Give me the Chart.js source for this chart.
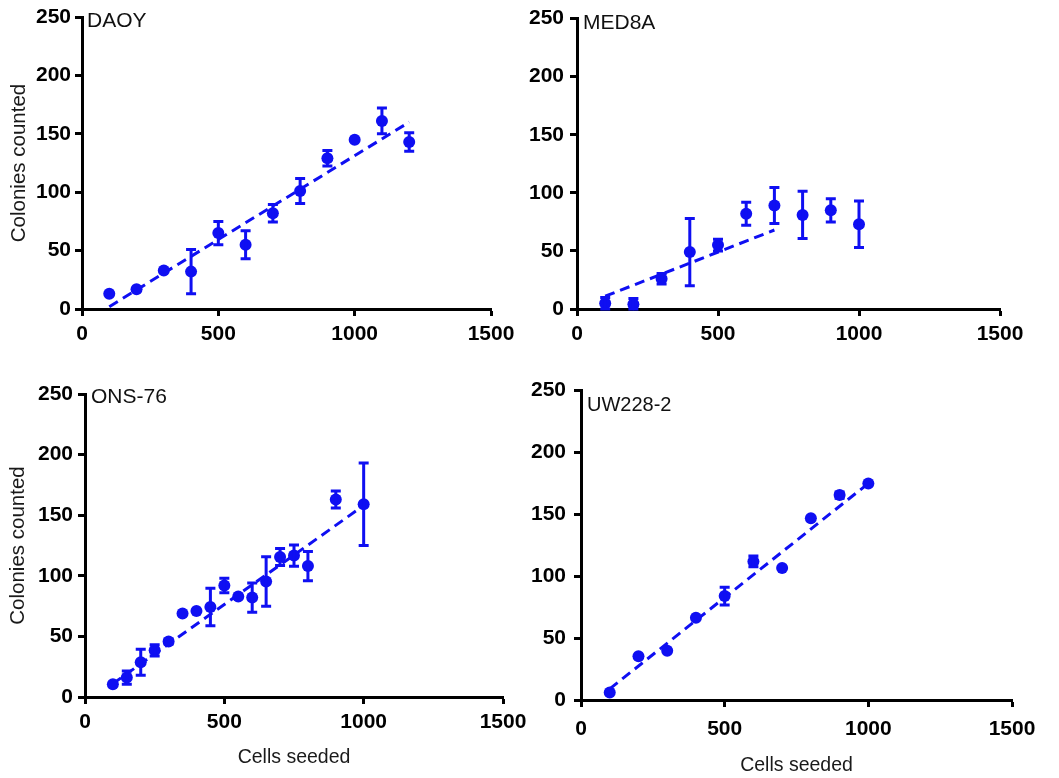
<!DOCTYPE html>
<html>
<head>
<meta charset="utf-8">
<script src="https://cdn.jsdelivr.net/npm/chart.js@4.4.1/dist/chart.umd.min.js"></script>
<style>
html,body{margin:0;padding:0;background:#fff;}
body{width:1059px;height:778px;position:relative;overflow:hidden;}
canvas{position:absolute;}
</style>
</head>
<body>
<canvas id="c1" width="530" height="370" style="left:0px;top:0px;width:530px;height:370px"></canvas>
<canvas id="c2" width="539" height="370" style="left:520px;top:0px;width:539px;height:370px"></canvas>
<canvas id="c3" width="540" height="408" style="left:0px;top:370px;width:540px;height:408px"></canvas>
<canvas id="c4" width="539" height="408" style="left:520px;top:370px;width:539px;height:408px"></canvas>
<script>
// ---------- DATA ----------
const xTicks = [0, 500, 1000, 1500];
const yTicks = [0, 50, 100, 150, 200, 250];
const yAxisTitle = 'Colonies counted';
const xAxisTitle = 'Cells seeded';

// DAOY
const daoyName = 'DAOY';
const daoyX = [100, 200, 300, 400, 500, 600, 700, 800, 900, 1000, 1100, 1200];
const daoyY = [13, 17, 33, 32, 65, 55, 82, 101, 129, 145, 161, 143];
const daoyErr = [0, 0, 0, 19, 10, 12, 7.5, 10.7, 6.6, 0, 11, 8];
const daoyFitX = [100, 1200];
const daoyFitY = [2, 160];

// MED8A
const medName = 'MED8A';
const medX = [100, 200, 300, 400, 500, 600, 700, 800, 900, 1000];
const medY = [5, 4, 26, 49, 55, 82, 89, 81, 85, 73];
const medErr = [5, 5, 4.5, 29, 5, 10, 15.5, 20.3, 10, 20];
const medFitX = [100, 700];
const medFitY = [11, 68];

// ONS-76
const onsName = 'ONS-76';
const onsX = [100, 150, 200, 250, 300, 350, 400, 450, 500, 550, 600, 650, 700, 750, 800, 900, 1000];
const onsY = [10.5, 16, 28.6, 38.5, 45.7, 68.8, 71, 74.3, 92, 83, 82, 95.3, 115.6, 116.7, 108, 163, 159];
const onsErr = [0, 5.5, 10.7, 4.7, 2, 0, 0, 15.5, 6, 0, 12, 20.4, 7, 8.8, 12, 7, 34];
const onsFitX = [100, 1000];
const onsFitY = [11, 158];

// UW228-2
const uwName = 'UW228-2';
const uwX = [100, 200, 300, 400, 500, 600, 700, 800, 900, 1000];
const uwY = [6, 35.4, 39.7, 66.5, 84, 112, 106.6, 146.8, 165.6, 175];
const uwErr = [0, 0, 0, 0, 7.2, 4.3, 0, 0, 2.5, 0];
const uwFitX = [100, 1000];
const uwFitY = [9, 175];

// ---------- STYLE ----------
const BLUE = '#0f0ff2';
const FONT = "'Liberation Sans', Arial, Helvetica, sans-serif";

const errorBars = {
  id: 'errorBars',
  afterDatasetsDraw(chart) {
    const ds = chart.data.datasets[0];
    const errs = ds.errors || [];
    const xs = chart.scales.x, ys = chart.scales.y;
    const ctx = chart.ctx;
    ctx.save();
    ctx.strokeStyle = BLUE;
    ctx.lineWidth = 3;
    ds.data.forEach((p, i) => {
      const e = errs[i];
      if (!e) return;
      const px = xs.getPixelForValue(p.x);
      const t = ys.getPixelForValue(p.y + e);
      const b = ys.getPixelForValue(Math.max(p.y - e, 0));
      ctx.beginPath();
      ctx.moveTo(px, t); ctx.lineTo(px, b);
      ctx.moveTo(px - 5, t); ctx.lineTo(px + 5, t);
      ctx.moveTo(px - 5, b); ctx.lineTo(px + 5, b);
      ctx.stroke();
    });
    ctx.restore();
  }
};

const panelTitle = {
  id: 'panelTitle',
  afterDraw(chart, args, opts) {
    const ctx = chart.ctx;
    const a = chart.chartArea;
    ctx.save();
    ctx.fillStyle = '#111';
    ctx.font = `${opts.size}px ${FONT}`;
    ctx.textAlign = 'left';
    ctx.textBaseline = 'middle';
    ctx.fillText(opts.text, a.left + opts.dx, a.top + opts.dy);
    ctx.restore();
  }
};

function makeChart(id, name, xs, ys, errs, fx, fy, L) {
  const pts = xs.map((v, i) => ({x: v, y: ys[i]}));
  const fit = fx.map((v, i) => ({x: v, y: fy[i]}));
  const tickFont = {family: FONT, size: 21, weight: 'bold'};
  new Chart(document.getElementById(id), {
    type: 'scatter',
    data: {
      datasets: [
        {data: pts, errors: errs, backgroundColor: BLUE, borderColor: BLUE, pointRadius: 6, pointHoverRadius: 6, pointBorderWidth: 0, showLine: false, clip: false},
        {data: fit, showLine: true, borderColor: BLUE, borderWidth: 3, borderDash: [10, 6], pointRadius: 0, fill: false, clip: false}
      ]
    },
    options: {
      responsive: false, animation: false, devicePixelRatio: 1,
      events: [],
      layout: {padding: {left: 0, top: L.top, right: L.right, bottom: 0}},
      plugins: {
        legend: {display: false}, tooltip: {enabled: false},
        panelTitle: {text: name, dx: L.tdx, dy: L.tdy, size: L.tsize}
      },
      scales: {
        x: {
          type: 'linear', min: xTicks[0], max: xTicks[xTicks.length - 1],
          afterBuildTicks(s) { s.ticks = xTicks.map(v => ({value: v})); },
          ticks: {font: tickFont, color: '#000', padding: L.xPad, maxRotation: 0, autoSkip: false, callback: v => String(v)},
          grid: {display: true, drawOnChartArea: false, drawTicks: true, tickLength: 7, tickWidth: 3, tickColor: '#000'},
          border: {display: true, width: 3, color: '#000'},
          title: {display: !!L.xTitle, text: xAxisTitle, color: '#1a1a1a', font: {family: FONT, size: 19.5}, padding: {top: 0, bottom: L.xTitlePad || 0}},
          afterFit(s) { s.height = L.xH; }
        },
        y: {
          type: 'linear', min: yTicks[0], max: yTicks[yTicks.length - 1],
          afterBuildTicks(s) { s.ticks = yTicks.map(v => ({value: v})); },
          ticks: {font: tickFont, color: '#000', padding: L.yPad, autoSkip: false, callback: v => String(v)},
          grid: {display: true, drawOnChartArea: false, drawTicks: true, tickLength: 7, tickWidth: 3, tickColor: '#000'},
          border: {display: true, width: 3, color: '#000'},
          title: {display: !!L.yTitle, text: yAxisTitle, color: '#1a1a1a', font: {family: FONT, size: 20.5}, padding: {top: L.yTitlePad || 0, bottom: 0}},
          afterFit(s) { s.width = L.yW; }
        }
      }
    },
    plugins: [errorBars, panelTitle]
  });
}

makeChart('c1', daoyName, daoyX, daoyY, daoyErr, daoyFitX, daoyFitY,
  {top: 17, right: 39, yW: 82, xH: 61, xPad: 6, yPad: 4, yTitle: true, yTitlePad: 6.7, tdx: 5, tdy: 4, tsize: 21});
makeChart('c2', medName, medX, medY, medErr, medFitX, medFitY,
  {top: 17, right: 59, yW: 57, xH: 61, xPad: 6, yPad: 6, tdx: 6, tdy: 5, tsize: 21});
makeChart('c3', onsName, onsX, onsY, onsErr, onsFitX, onsFitY,
  {top: 24, right: 37, yW: 85, xH: 81, xPad: 6, yPad: 5, yTitle: true, yTitlePad: 5.7, xTitle: true, xTitlePad: 8.3, tdx: 6, tdy: 3, tsize: 21});
makeChart('c4', uwName, uwX, uwY, uwErr, uwFitX, uwFitY,
  {top: 19, right: 47, yW: 61, xH: 78, xPad: 10, yPad: 8, xTitle: true, xTitlePad: 0.3, tdx: 6, tdy: 15, tsize: 20});
</script>
</body>
</html>
